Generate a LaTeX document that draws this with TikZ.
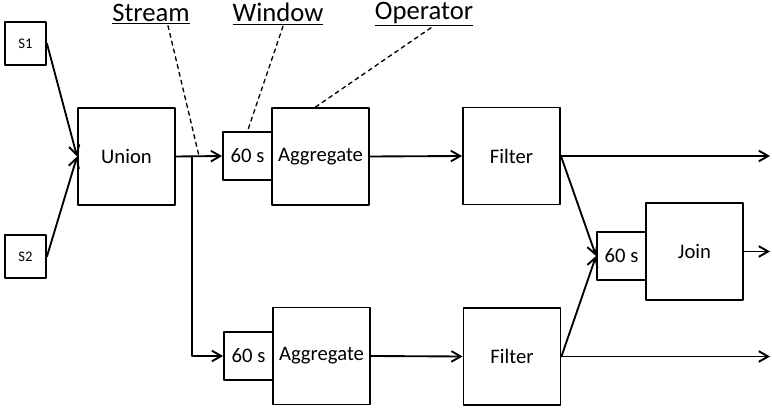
\documentclass[tikz,border=0pt]{standalone}
\usepackage{fontspec}
\setmainfont{Carlito}
\usetikzlibrary{arrows.meta}
\newdimen\pxu
\pxu=0.75pt

\begin{document}
\begin{tikzpicture}[x=\pxu,y=-\pxu,line cap=round,line join=round,
  >={Straight Barb[length=7pt,width=8pt]},
  every node/.style={inner sep=1pt},
  opbox/.style={draw,line width=1.4pt,minimum width=97\pxu,minimum height=97\pxu,font=\fontsize{15.5}{18}\selectfont},
  winbox/.style={draw,line width=1.4pt,minimum width=49\pxu,minimum height=48\pxu,font=\fontsize{15.5}{18}\selectfont},
  srcbox/.style={draw,line width=1.4pt,minimum width=41\pxu,minimum height=43\pxu,font=\fontsize{11}{13}\selectfont},
  tag/.style={font=\fontsize{20}{24}\selectfont},
  flow/.style={->,line width=1.4pt},
  pointer/.style={dashed,line width=1pt}]
  \useasboundingbox (0,0) rectangle (772,410);
  % sources and union
  \node[srcbox] (s1) at (25.5,43.5) {S1};
  \node[srcbox] (s2) at (25.5,256.5) {S2};
  \node[opbox] (union) at (126.5,156.5) {Union};
  % upper branch
  \node[winbox] (win1) at (247.5,156) {60 s};
  \node[opbox] (agg1) at (320.5,156.5) {Aggregate};
  \node[opbox] (fil1) at (511.5,156) {Filter};
  % lower branch
  \node[winbox] (win2) at (248.5,356) {60 s};
  \node[opbox] (agg2) at (321.5,356) {Aggregate};
  \node[opbox] (fil2) at (512,356.5) {Filter};
  % join
  \node[winbox] (win3) at (621.5,256) {60 s};
  \node[opbox] (join) at (694.5,251.5) {Join};
  % labels
  \node[tag] (lbstream) at (151,14) {\underline{Stream}};
  \node[tag] (lbwin) at (278,14) {\underline{Window}};
  \node[tag] (lbop) at (424,14) {\underline{Operator}};
  \coordinate (split) at (192,156);
  \coordinate (tap) at (199,156);
  \coordinate (out1) at (770,156);
  \coordinate (out2) at (770,251.5);
  \coordinate (out3) at (770,356.5);

  \foreach \a/\b in {s1/union,s2/union,agg1/fil1,agg2/fil2}{
    \draw[flow] (\a.east) -- (\b.west);
  }
  \draw[flow] (union.east) -- (win1.west);
  \draw[flow] (split) |- (win2.west);
  \draw[flow] (fil1.east) -- (win3.west);
  \draw[flow] (fil2.east) -- (win3.west);
  \draw[flow] (fil1.east) -- (out1);
  \draw[flow] (join.east) -- (out2);
  \draw[flow] (fil2.east) -- (out3);
  \draw[pointer] ([xshift=17\pxu]lbstream.south) -- (tap);
  \draw[pointer] ([xshift=5\pxu]lbwin.south) -- (win1.north);
  \draw[pointer] ([xshift=7\pxu]lbop.south) -- ([xshift=-5\pxu]agg1.north);
\end{tikzpicture}
\end{document}
